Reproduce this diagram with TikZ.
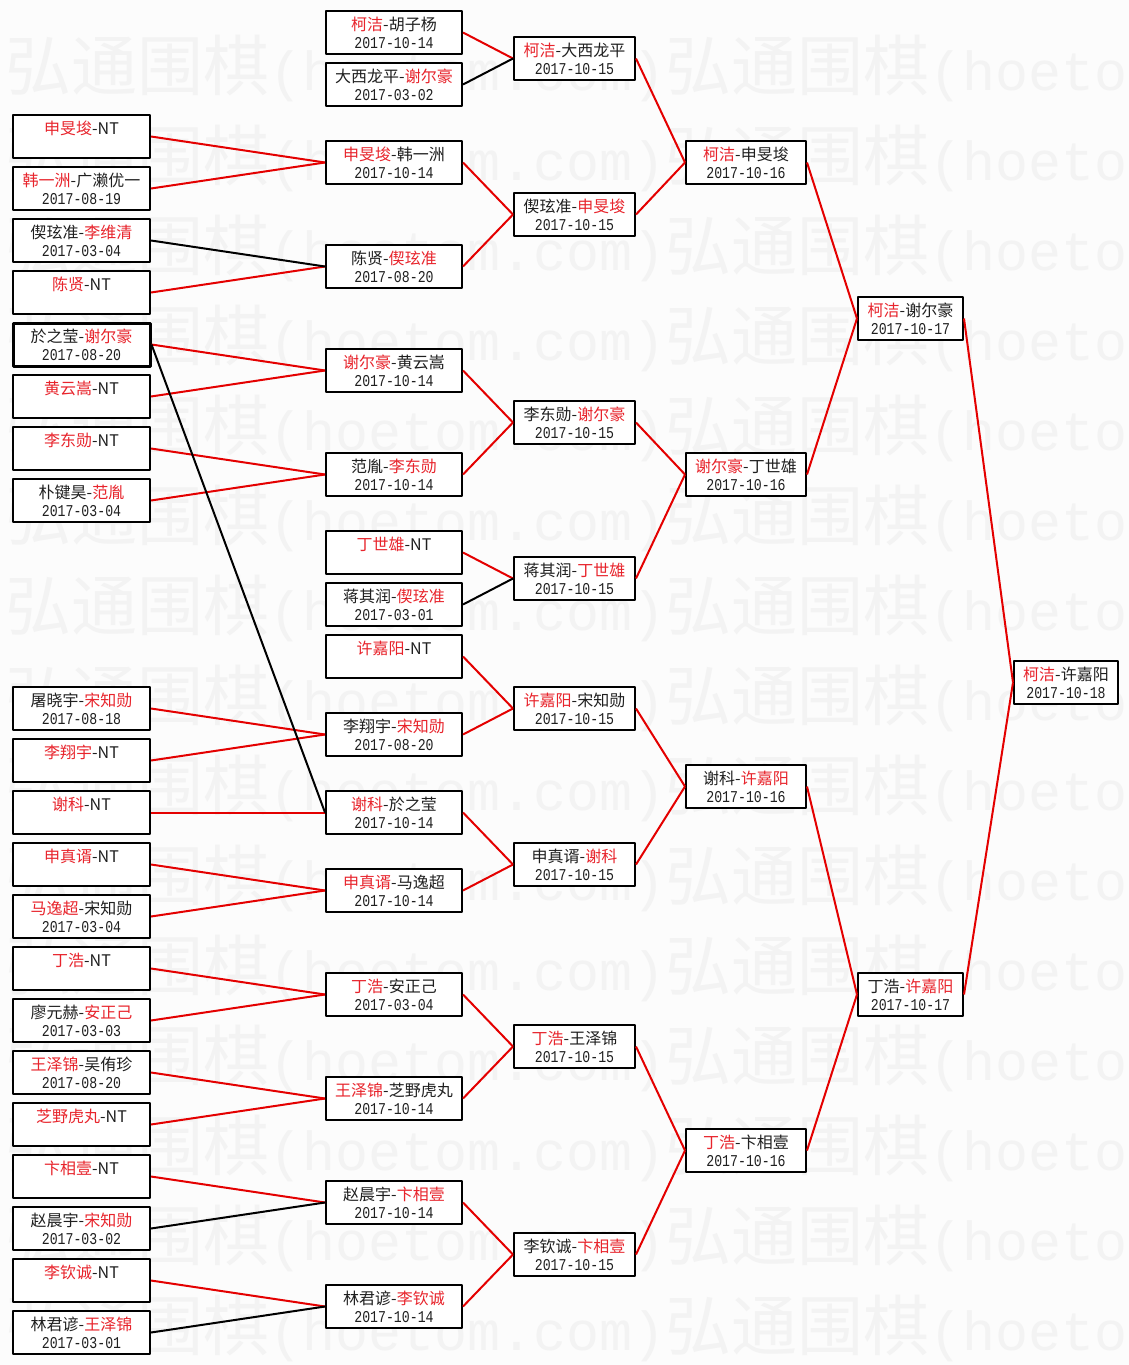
\documentclass[tikz,border=0pt]{standalone}
\usepackage{fontspec}
\setmainfont{Noto Sans CJK SC}
\newfontfamily\datefont[FakeStretch=0.8]{Liberation Mono}
\newfontfamily\wmlatin{Liberation Mono}

\definecolor{winred}{RGB}{228,0,0}
\definecolor{namered}{RGB}{232,36,44}
\definecolor{wmgray}{RGB}{243,243,243}
\definecolor{bggray}{RGB}{252,252,252}

\newcommand{\wn}[1]{\textcolor{namered}{#1}}
\newcommand{\bstrut}{\rule[-0.5pt]{0pt}{14pt}}
\newcommand{\mdate}[1]{{\datefont\fontsize{16.5}{18}\selectfont #1}}
\newcommand{\game}[2]{\bstrut #1\\\bstrut\mdate{#2}}

\begin{document}
\begin{tikzpicture}[x=1pt, y=-1pt, line join=round,
		box/.style={draw, line width=2pt, fill=white, minimum height=43pt, inner sep=0pt,
			align=center, text=black!88, font=\fontsize{16}{18}\selectfont},
		colA/.style={box, minimum width=137pt},
		colB/.style={box, minimum width=136pt},
		colC/.style={box, minimum width=121pt},
		colD/.style={box, minimum width=120pt},
		colE/.style={box, minimum width=105pt},
		colF/.style={box, minimum width=104pt},
		win/.style={draw=winred, line width=2pt},
		lose/.style={draw=black, line width=2pt},
		wmark/.style={inner sep=0pt, text=wmgray, font=\fontsize{66}{66}\selectfont}]

	\useasboundingbox (0,0) rectangle (1129,1365);
	\fill[bggray] (0,0) rectangle (1129,1365);

	% ---------- watermark rows ----------
	\begin{scope}
		\clip (0,0) rectangle (1129,1365);
		\foreach \k in {0,...,14}
		\node[wmark, anchor=base west] (wm\k) at (5,90+90*\k)
		{弘通围棋{\wmlatin\fontsize{55}{55}\selectfont (hoetom.com)}弘通围棋{\wmlatin\fontsize{55}{55}\selectfont (hoetom}};
	\end{scope}

	% ---------- round 1 (left column) ----------
	\node[colA] (a1)  at (81.5,136.5)  {\game{\wn{申旻埈}-NT}{}};
	\node[colA] (a2)  at (81.5,188.5)  {\game{\wn{韩一洲}-广濑优一}{2017-08-19}};
	\node[colA] (a3)  at (81.5,240.5)  {\game{偰玹准-\wn{李维清}}{2017-03-04}};
	\node[colA] (a4)  at (81.5,292.5)  {\game{\wn{陈贤}-NT}{}};
	\node[colA, line width=3pt] (a5) at (81.5,344.5) {\game{於之莹-\wn{谢尔豪}}{2017-08-20}};
	\node[colA] (a6)  at (81.5,396.5)  {\game{\wn{黄云嵩}-NT}{}};
	\node[colA] (a7)  at (81.5,448.5)  {\game{\wn{李东勋}-NT}{}};
	\node[colA] (a8)  at (81.5,500.5)  {\game{朴键昊-\wn{范胤}}{2017-03-04}};
	\node[colA] (a9)  at (81.5,708.5)  {\game{屠晓宇-\wn{宋知勋}}{2017-08-18}};
	\node[colA] (a10) at (81.5,760.5)  {\game{\wn{李翔宇}-NT}{}};
	\node[colA] (a11) at (81.5,812.5)  {\game{\wn{谢科}-NT}{}};
	\node[colA] (a12) at (81.5,864.5)  {\game{\wn{申真谞}-NT}{}};
	\node[colA] (a13) at (81.5,916.5)  {\game{\wn{马逸超}-宋知勋}{2017-03-04}};
	\node[colA] (a14) at (81.5,968.5)  {\game{\wn{丁浩}-NT}{}};
	\node[colA] (a15) at (81.5,1020.5) {\game{廖元赫-\wn{安正己}}{2017-03-03}};
	\node[colA] (a16) at (81.5,1072.5) {\game{\wn{王泽锦}-吴侑珍}{2017-08-20}};
	\node[colA] (a17) at (81.5,1124.5) {\game{\wn{芝野虎丸}-NT}{}};
	\node[colA] (a18) at (81.5,1176.5) {\game{\wn{卞相壹}-NT}{}};
	\node[colA] (a19) at (81.5,1228.5) {\game{赵晨宇-\wn{宋知勋}}{2017-03-02}};
	\node[colA] (a20) at (81.5,1280.5) {\game{\wn{李钦诚}-NT}{}};
	\node[colA] (a21) at (81.5,1332.5) {\game{林君谚-\wn{王泽锦}}{2017-03-01}};

	% ---------- round 2 ----------
	\node[colB] (b1)  at (394,32.5)   {\game{\wn{柯洁}-胡子杨}{2017-10-14}};
	\node[colB] (b2)  at (394,84.5)   {\game{大西龙平-\wn{谢尔豪}}{2017-03-02}};
	\node[colB] (b3)  at (394,162.5)  {\game{\wn{申旻埈}-韩一洲}{2017-10-14}};
	\node[colB] (b4)  at (394,266.5)  {\game{陈贤-\wn{偰玹准}}{2017-08-20}};
	\node[colB] (b5)  at (394,370.5)  {\game{\wn{谢尔豪}-黄云嵩}{2017-10-14}};
	\node[colB] (b6)  at (394,474.5)  {\game{范胤-\wn{李东勋}}{2017-10-14}};
	\node[colB] (b7)  at (394,552.5)  {\game{\wn{丁世雄}-NT}{}};
	\node[colB] (b8)  at (394,604.5)  {\game{蒋其润-\wn{偰玹准}}{2017-03-01}};
	\node[colB] (b9)  at (394,656.5)  {\game{\wn{许嘉阳}-NT}{}};
	\node[colB] (b10) at (394,734.5)  {\game{李翔宇-\wn{宋知勋}}{2017-08-20}};
	\node[colB] (b11) at (394,812.5)  {\game{\wn{谢科}-於之莹}{2017-10-14}};
	\node[colB] (b12) at (394,890.5)  {\game{\wn{申真谞}-马逸超}{2017-10-14}};
	\node[colB] (b13) at (394,994.5)  {\game{\wn{丁浩}-安正己}{2017-03-04}};
	\node[colB] (b14) at (394,1098.5) {\game{\wn{王泽锦}-芝野虎丸}{2017-10-14}};
	\node[colB] (b15) at (394,1202.5) {\game{赵晨宇-\wn{卞相壹}}{2017-10-14}};
	\node[colB] (b16) at (394,1306.5) {\game{林君谚-\wn{李钦诚}}{2017-10-14}};

	% ---------- round 3 ----------
	\node[colC] (c1) at (574.5,58.5)   {\game{\wn{柯洁}-大西龙平}{2017-10-15}};
	\node[colC] (c2) at (574.5,214.5)  {\game{偰玹准-\wn{申旻埈}}{2017-10-15}};
	\node[colC] (c3) at (574.5,422.5)  {\game{李东勋-\wn{谢尔豪}}{2017-10-15}};
	\node[colC] (c4) at (574.5,578.5)  {\game{蒋其润-\wn{丁世雄}}{2017-10-15}};
	\node[colC] (c5) at (574.5,708.5)  {\game{\wn{许嘉阳}-宋知勋}{2017-10-15}};
	\node[colC] (c6) at (574.5,864.5)  {\game{申真谞-\wn{谢科}}{2017-10-15}};
	\node[colC] (c7) at (574.5,1046.5) {\game{\wn{丁浩}-王泽锦}{2017-10-15}};
	\node[colC] (c8) at (574.5,1254.5) {\game{李钦诚-\wn{卞相壹}}{2017-10-15}};

	% ---------- round 4 ----------
	\node[colD] (d1) at (746,162.5)  {\game{\wn{柯洁}-申旻埈}{2017-10-16}};
	\node[colD] (d2) at (746,474.5)  {\game{\wn{谢尔豪}-丁世雄}{2017-10-16}};
	\node[colD] (d3) at (746,786.5)  {\game{谢科-\wn{许嘉阳}}{2017-10-16}};
	\node[colD] (d4) at (746,1150.5) {\game{\wn{丁浩}-卞相壹}{2017-10-16}};

	% ---------- semi finals and final ----------
	\node[colE] (e1) at (910.5,318.5) {\game{\wn{柯洁}-谢尔豪}{2017-10-17}};
	\node[colE] (e2) at (910.5,994.5) {\game{丁浩-\wn{许嘉阳}}{2017-10-17}};
	\node[colF] (fin) at (1066,682.5) {\game{\wn{柯洁}-许嘉阳}{2017-10-18}};

	% ---------- connectors ----------
	\foreach \s/\t in {a1/b3, a2/b3, a4/b4, a5/b5, a6/b5, a7/b6, a8/b6, a9/b10, a10/b10,
			a11/b11, a12/b12, a13/b12, a14/b13, a15/b13, a16/b14, a17/b14, a18/b15, a20/b16,
			b1/c1, b3/c2, b4/c2, b5/c3, b6/c3, b7/c4, b9/c5, b10/c5, b11/c6, b12/c6,
			b13/c7, b14/c7, b15/c8, b16/c8,
			c1/d1, c2/d1, c3/d2, c4/d2, c5/d3, c6/d3, c7/d4, c8/d4,
			d1/e1, d2/e1, d3/e2, d4/e2, e1/fin, e2/fin}
	\draw[win] (\s.east) -- (\t.west);
	\foreach \s/\t in {a3/b4, a5/b11, a19/b15, a21/b16, b2/c1, b8/c4}
	\draw[lose] (\s.east) -- (\t.west);

\end{tikzpicture}
\end{document}
